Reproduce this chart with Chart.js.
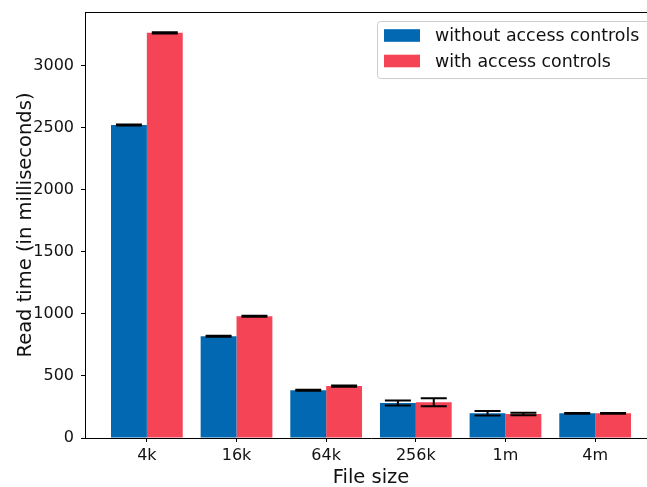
<!DOCTYPE html>
<html>
<head>
<meta charset="utf-8">
<script src="https://cdn.jsdelivr.net/npm/chart.js@4/dist/chart.umd.min.js"></script>
<style>
html,body{margin:0;padding:0;background:#fff;overflow:hidden;width:647px;height:487px;}
#wrap{position:absolute;left:0;top:0;width:700px;height:487px;}
</style>
</head>
<body>
<div id="wrap"><canvas id="c" width="700" height="487"></canvas></div>
<script>
const categories = ['4k', '16k', '64k', '256k', '1m', '4m'];
const withoutAC = [2520, 820, 385, 281, 199, 199];
const withAC = [3262, 980, 418, 288, 193, 199];
const withoutErr = [4, 4, 4, 20, 18, 3];
const withErr = [5, 4, 5, 33, 10, 3];
const yTicks = [0, 500, 1000, 1500, 2000, 2500, 3000];
const seriesLabels = ['without access controls', 'with access controls'];

const FONT = 'DejaVu Sans';
const TEXT = '#111';

const errorBars = {
  id: 'errorBars',
  afterDatasetsDraw(chart) {
    const ctx = chart.ctx;
    const ys = chart.scales.y;
    ctx.save();
    ctx.strokeStyle = '#000';
    ctx.lineWidth = 2;
    chart.data.datasets.forEach((ds, di) => {
      const meta = chart.getDatasetMeta(di);
      meta.data.forEach((bar, i) => {
        const v = ds.data[i].y, e = ds.errors[i];
        const yt = ys.getPixelForValue(v + e), yb = ys.getPixelForValue(v - e);
        const x = bar.x, hw = 13;
        ctx.beginPath();
        ctx.moveTo(x, yt); ctx.lineTo(x, yb);
        ctx.moveTo(x - hw, yt); ctx.lineTo(x + hw, yt);
        ctx.moveTo(x - hw, yb); ctx.lineTo(x + hw, yb);
        ctx.stroke();
      });
    });
    ctx.restore();
  }
};

const frameAndLegend = {
  id: 'frameAndLegend',
  afterDraw(chart) {
    const ctx = chart.ctx, a = chart.chartArea;
    ctx.save();
    ctx.strokeStyle = '#000';
    ctx.lineWidth = 1;
    ctx.beginPath();
    ctx.moveTo(a.left, a.top + 0.5); ctx.lineTo(a.right, a.top + 0.5);
    ctx.moveTo(a.right - 0.5, a.top); ctx.lineTo(a.right - 0.5, a.bottom);
    ctx.stroke();
    // legend
    const lx = 377.5, ly = 21.5, lw = 290, lh = 57, r = 3;
    ctx.fillStyle = 'rgba(255,255,255,0.8)';
    ctx.strokeStyle = '#cccccc';
    ctx.beginPath();
    ctx.moveTo(lx + r, ly);
    ctx.lineTo(lx + lw - r, ly); ctx.arcTo(lx + lw, ly, lx + lw, ly + r, r);
    ctx.lineTo(lx + lw, ly + lh - r); ctx.arcTo(lx + lw, ly + lh, lx + lw - r, ly + lh, r);
    ctx.lineTo(lx + r, ly + lh); ctx.arcTo(lx, ly + lh, lx, ly + lh - r, r);
    ctx.lineTo(lx, ly + r); ctx.arcTo(lx, ly, lx + r, ly, r);
    ctx.closePath();
    ctx.fill(); ctx.stroke();
    ctx.font = '17.4px "' + FONT + '"';
    ctx.textBaseline = 'middle';
    ctx.textAlign = 'left';
    chart.data.datasets.forEach((ds, i) => {
      const cy = 35.5 + i * 25.5;
      ctx.fillStyle = ds.backgroundColor;
      ctx.fillRect(384, cy - 6.3, 36, 12.6);
      ctx.fillStyle = TEXT;
      ctx.fillText(ds.label, 435, cy + 1);
    });
    ctx.restore();
  }
};

new Chart(document.getElementById('c'), {
  type: 'bar',
  data: {
    datasets: [
      { label: seriesLabels[0], data: withoutAC.map((v, i) => ({x: i, y: v})), errors: withoutErr, backgroundColor: '#0168b1' },
      { label: seriesLabels[1], data: withAC.map((v, i) => ({x: i, y: v})), errors: withErr, backgroundColor: '#f44456' }
    ]
  },
  options: {
    responsive: false,
    animation: false,
    events: [],
    layout: { padding: { top: 12, right: 43, left: 14, bottom: 0 } },
    datasets: { bar: { categoryPercentage: 0.8, barPercentage: 1.0 } },
    plugins: { legend: { display: false }, tooltip: { enabled: false } },
    scales: {
      x: {
        type: 'linear', min: -0.69, max: 5.69, offset: false,
        afterBuildTicks: s => { s.ticks = categories.map((c, i) => ({value: i})); },
        afterFit: s => { s.height = 49; s.paddingLeft = 0; s.paddingRight = 0; },
        ticks: { callback: v => categories[v], color: TEXT, font: { family: FONT, size: 16 }, padding: 4, autoSkip: false, maxRotation: 0 },
        grid: { offset: false, drawOnChartArea: false, drawTicks: true, tickLength: 4, color: '#000' },
        border: { display: true, color: '#000', width: 1 },
        title: { display: true, text: 'File size', color: TEXT, font: { family: FONT, size: 19.5, lineHeight: 0.9 }, padding: { top: 0, bottom: 0 } }
      },
      y: {
        type: 'linear', min: 0, max: 3430,
        afterBuildTicks: s => { s.ticks = yTicks.map(v => ({value: v})); },
        afterFit: s => { s.width = 71; s.paddingTop = 0; s.paddingBottom = 0; },
        ticks: { callback: v => String(v), color: TEXT, font: { family: FONT, size: 16 }, padding: 7 },
        grid: { drawOnChartArea: false, drawTicks: true, tickLength: 4, color: '#000' },
        border: { display: true, color: '#000', width: 1 },
        title: { display: true, text: 'Read time (in milliseconds)', color: TEXT, font: { family: FONT, size: 19.5 }, padding: { top: 0, bottom: 0 } }
      }
    }
  },
  plugins: [errorBars, frameAndLegend]
});
</script>
</body>
</html>
